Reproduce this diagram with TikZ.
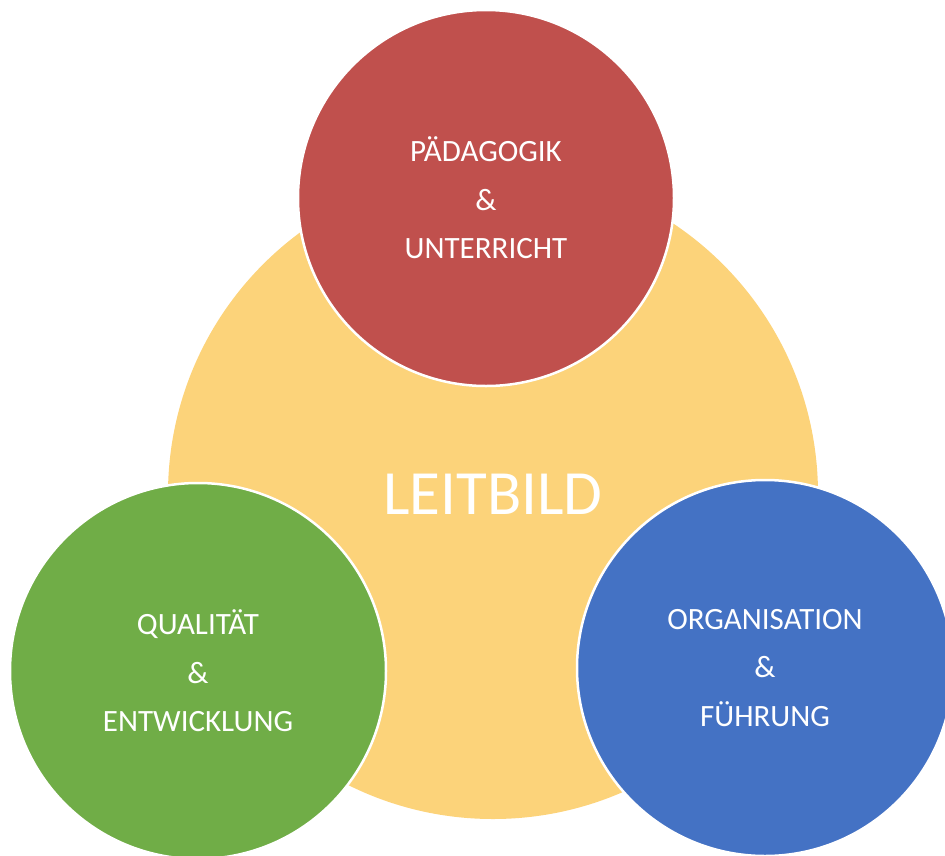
\documentclass[tikz,border=0pt]{standalone}
\usepackage{fontspec}
\setmainfont{Carlito}
\definecolor{leitgelb}{HTML}{FCD37A}
\definecolor{paedrot}{HTML}{C0504D}
\definecolor{qualgruen}{HTML}{70AD47}
\definecolor{orgblau}{HTML}{4472C4}
\begin{document}
\begin{tikzpicture}[x=1pt,y=-1pt]
        \tikzstyle{bigcircle}=[circle, fill=leitgelb, inner sep=0pt, minimum size=650pt, text=white, font=\fontsize{63}{76}\selectfont]
        \tikzstyle{smallcircle}=[circle, draw=white, line width=2.5pt, inner sep=0pt, minimum size=376pt, text=white, align=center, font=\fontsize{31}{48.5}\selectfont]
        \useasboundingbox (0,0) rectangle (945,855);
        \clip (0,0) rectangle (945,855);
        \node[bigcircle] (leitbild) at (493,494) {LEITBILD};
        \node[smallcircle, fill=paedrot] (paed) at (486,198) {PÄDAGOGIK\\\&\\UNTERRICHT};
        \node[smallcircle, fill=qualgruen] (qual) at (198,671) {QUALITÄT\\\&\\ENTWICKLUNG};
        \node[smallcircle, fill=orgblau] (org) at (765,668) {ORGANISATION\\\&\\FÜHRUNG};
      \end{tikzpicture}
\end{document}
